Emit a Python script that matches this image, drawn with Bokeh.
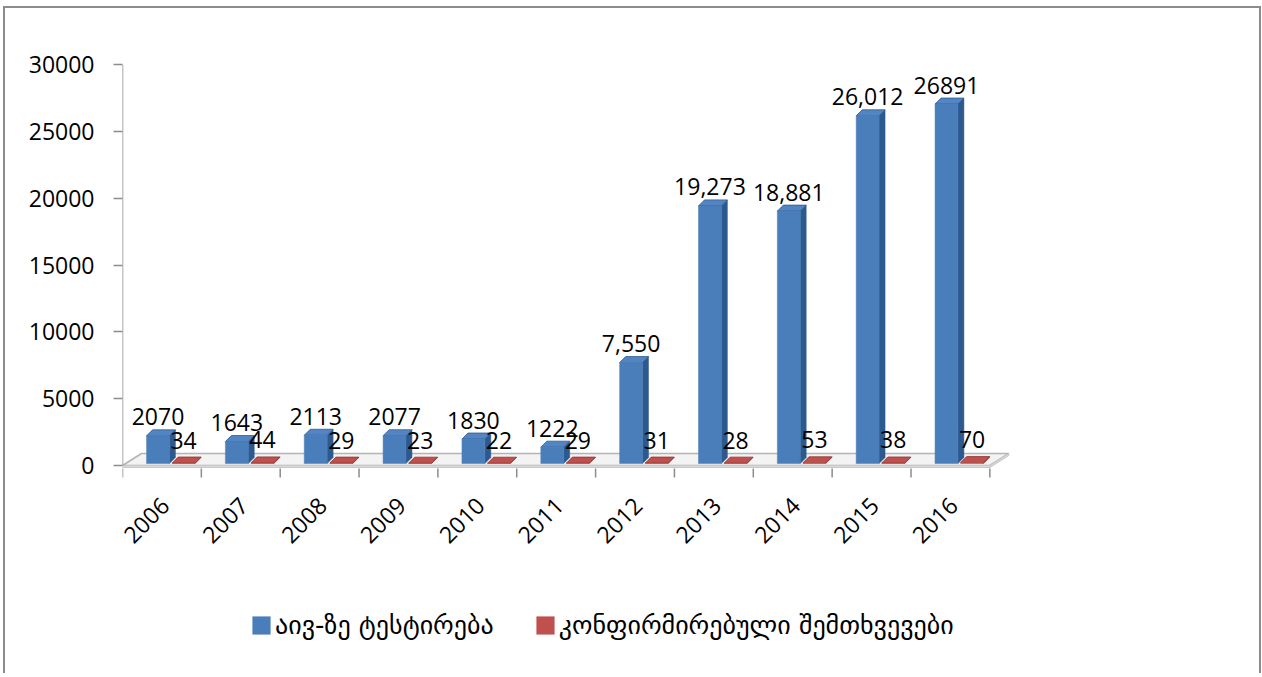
import math
from bokeh.plotting import figure
from bokeh.models import Range1d, FixedTicker, Legend, LegendItem, ColumnDataSource
from bokeh.embed import file_html
from bokeh.resources import INLINE
from bokeh.core.properties import value

# ---------------- data ----------------
years = ["2006", "2007", "2008", "2009", "2010", "2011", "2012", "2013", "2014", "2015", "2016"]
tests = [2070, 1643, 2113, 2077, 1830, 1222, 7550, 19273, 18881, 26012, 26891]
confirmed = [34, 44, 29, 23, 22, 29, 31, 28, 53, 38, 70]
test_labels = ["2070", "1643", "2113", "2077", "1830", "1222", "7,550", "19,273", "18,881", "26,012", "26891"]
confirmed_labels = ["34", "44", "29", "23", "22", "29", "31", "28", "53", "38", "70"]
series_names = ["აივ-ზე ტესტირება", "კონფირმირებული შემთხვევები"]
y_ticks = [0, 5000, 10000, 15000, 20000, 25000, 30000]

# ---------------- geometry / style ----------------
FRAME_W = 891
AXIS_H = 401              # pixels from 0 to 30000
BELOW_PX = 195            # frame extends below the zero line (room for labels / legend)
FRAME_H = AXIS_H + BELOW_PX
X_MAX, Y_MAX = 11.3, 30000
PX_X = X_MAX / FRAME_W
PX_Y = Y_MAX / AXIS_H
Y_MIN = -BELOW_PX * PX_Y

BAR_W = 0.29
BLUE_OFF = 0.305
RED_OFF = 0.63
DX = 6 * PX_X
DY = 6 * PX_Y
BASE = 2 * PX_Y
FDX = 19 * PX_X
FDY = 12 * PX_Y

FONT = "Open Sans"
LABEL_SIZE = "23px"
GRAY = "#8c8c8c"

n = len(years)

p = figure(
    x_range=Range1d(0, X_MAX), y_range=Range1d(Y_MIN, Y_MAX),
    frame_width=FRAME_W, frame_height=FRAME_H,
    min_border_left=117, min_border_right=246, min_border_top=56, min_border_bottom=13,
    x_axis_location=None,
    output_backend="svg", toolbar_location=None,
    background_fill_color="white", border_fill_color="white",
    outline_line_color=None,
    styles={"margin-left": "3px", "margin-top": "6px",
            "border-left": "2px solid #8c8c8c", "border-top": "2px solid #8c8c8c",
            "border-right": "2px solid #8c8c8c"},
)
p.grid.visible = False

# floor slab (front face + top)
p.patch([0, n, n + FDX, n + FDX, FDX, 0], [0, 0, FDY, FDY, FDY, 0],
        fill_color="#f3f3f3", line_color="#b4b4b4", line_width=1.5)
p.patch([0, n, n, 0], [0, 0, -2 * PX_Y, -2 * PX_Y],
        fill_color="#d9d9d9", line_color="#c8c8c8", line_width=1)
p.patch([n, n + FDX, n + FDX, n], [0, FDY, FDY - 2 * PX_Y, -2 * PX_Y],
        fill_color="#d9d9d9", line_color="#c8c8c8", line_width=1)

# y axis line (only from 0 to 30000)
p.segment(x0=[0], y0=[0], x1=[0], y1=[Y_MAX], line_color=GRAY, line_width=1.5)

# category tick marks at the category boundaries
bounds = list(range(n + 1))
p.segment(x0=bounds, y0=[-3 * PX_Y] * len(bounds), x1=bounds, y1=[-12 * PX_Y] * len(bounds),
          line_color=GRAY, line_width=1.5)


def bar3d(offset, vals, front, side, top):
    x0 = [i + offset for i in range(n)]
    x1 = [x + BAR_W for x in x0]
    src = ColumnDataSource(dict(
        x=[(a + b) / 2 for a, b in zip(x0, x1)],
        bottom=[BASE] * n,
        top=[BASE + v for v in vals],
    ))
    side_xs = [[b, b + DX, b + DX, b] for b in x1]
    side_ys = [[BASE, BASE + DY, BASE + DY + v, BASE + v] for v in vals]
    top_xs = [[a, b, b + DX, a + DX] for a, b in zip(x0, x1)]
    top_ys = [[BASE + v, BASE + v, BASE + v + DY, BASE + v + DY] for v in vals]
    p.patches(side_xs, side_ys, fill_color=side, line_color=side, line_width=0.5)
    p.patches(top_xs, top_ys, fill_color=top, line_color=side, line_width=0.8)
    r = p.vbar(x="x", width=BAR_W, bottom="bottom", top="top", source=src,
               fill_color=front, line_color=front, line_width=0.5)
    return r


r_blue = bar3d(BLUE_OFF, tests, "#4a7ebb", "#2d5a8e", "#5385c4")
r_red = bar3d(RED_OFF, confirmed, "#c0504d", "#8c3533", "#c0504d")

# data labels
p.text(x=[i + BLUE_OFF + BAR_W / 2 for i in range(n)],
       y=[BASE + v + DY for v in tests], text=test_labels,
       text_font=value(FONT), text_font_size=LABEL_SIZE, text_color="black",
       text_align="center", text_baseline="alphabetic", y_offset=-13)
p.text(x=[i + RED_OFF + BAR_W / 2 for i in range(n)],
       y=[BASE + v + DY for v in confirmed], text=confirmed_labels,
       text_font=value(FONT), text_font_size=LABEL_SIZE, text_color="black",
       text_align="center", text_baseline="alphabetic", y_offset=-17)

# rotated category labels
p.text(x=[i + 0.5 for i in range(n)], y=[0] * n, text=years,
       angle=math.pi / 4, x_offset=3, y_offset=36,
       text_font=value(FONT), text_font_size=LABEL_SIZE, text_color="black",
       text_align="right", text_baseline="middle")

# y axis
ya = p.yaxis[0]
ya.ticker = FixedTicker(ticks=y_ticks, minor_ticks=[])
ya.major_label_overrides = {t: str(t) for t in y_ticks}
ya.axis_line_color = None
ya.major_tick_line_color = GRAY
ya.major_tick_line_width = 1.5
ya.major_tick_out = 9
ya.major_tick_in = 0
ya.minor_tick_out = 0
ya.minor_tick_in = 0
ya.major_label_text_font = FONT
ya.major_label_text_font_size = LABEL_SIZE
ya.major_label_text_color = "black"
ya.major_label_standoff = 19

legend = Legend(
    items=[LegendItem(label=series_names[0], renderers=[r_blue]),
           LegendItem(label=series_names[1], renderers=[r_red])],
    orientation="horizontal", location=(128, 20),
    glyph_width=22, glyph_height=22, label_standoff=3, spacing=40, padding=0, margin=0,
    label_text_font="DejaVu Sans", label_text_font_size="26px", label_text_color="black",
    border_line_color=None, background_fill_alpha=0,
)
p.add_layout(legend)

open("out.html", "w").write(file_html(p, INLINE))
